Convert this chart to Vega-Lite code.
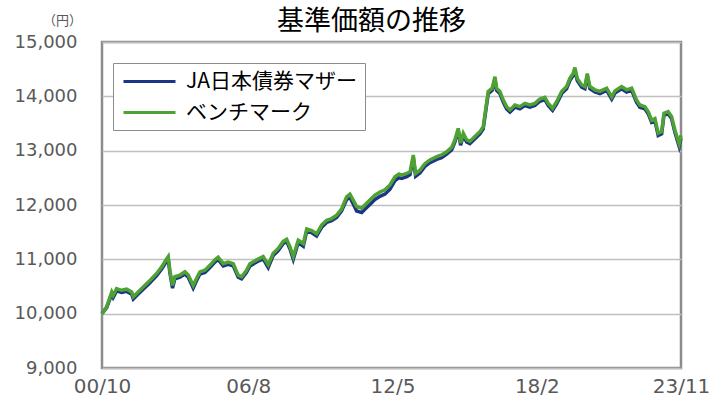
{
  "$schema": "https://vega.github.io/schema/vega-lite/v6.json",
  "width": 579,
  "height": 326,
  "autosize": {"type": "none"},
  "padding": {"left": 102, "top": 42, "right": 45, "bottom": 40},
  "background": "white",
  "title": {"text": "基準価額の推移", "fontSize": 27, "font": "Noto Sans CJK JP", "fontWeight": "normal", "color": "#000000", "anchor": "middle", "dx": -20, "dy": 28, "offset": 6},
  "config": {"view": {"stroke": "#8c8c8c", "strokeWidth": 2.5}, "font": "Noto Sans CJK JP"},
  "data": {
    "values": [
      {"d": "2000/10/01", "bm": 10000, "fund": 10000},
      {"d": "2000/12/08", "bm": 10130, "fund": 10110},
      {"d": "2001/02/20", "bm": 10400, "fund": 10360},
      {"d": "2001/03/13", "bm": 10340, "fund": 10300},
      {"d": "2001/05/01", "bm": 10460, "fund": 10420},
      {"d": "2001/07/13", "bm": 10430, "fund": 10390},
      {"d": "2001/09/25", "bm": 10450, "fund": 10410},
      {"d": "2001/12/07", "bm": 10400, "fund": 10360},
      {"d": "2001/12/31", "bm": 10310, "fund": 10270},
      {"d": "2002/03/12", "bm": 10400, "fund": 10360},
      {"d": "2002/05/24", "bm": 10490, "fund": 10450},
      {"d": "2002/08/30", "bm": 10610, "fund": 10570},
      {"d": "2002/12/06", "bm": 10740, "fund": 10700},
      {"d": "2003/02/17", "bm": 10860, "fund": 10820},
      {"d": "2003/05/01", "bm": 11010, "fund": 10970},
      {"d": "2003/05/23", "bm": 11050, "fund": 11010},
      {"d": "2003/06/16", "bm": 10800, "fund": 10760},
      {"d": "2003/07/25", "bm": 10520, "fund": 10470},
      {"d": "2003/08/28", "bm": 10680, "fund": 10640},
      {"d": "2003/11/10", "bm": 10710, "fund": 10670},
      {"d": "2004/01/22", "bm": 10770, "fund": 10730},
      {"d": "2004/03/10", "bm": 10710, "fund": 10670},
      {"d": "2004/05/21", "bm": 10520, "fund": 10470},
      {"d": "2004/07/10", "bm": 10650, "fund": 10610},
      {"d": "2004/08/27", "bm": 10770, "fund": 10730},
      {"d": "2004/11/08", "bm": 10800, "fund": 10760},
      {"d": "2005/01/20", "bm": 10890, "fund": 10850},
      {"d": "2005/04/02", "bm": 10990, "fund": 10950},
      {"d": "2005/05/20", "bm": 11040, "fund": 11000},
      {"d": "2005/08/01", "bm": 10920, "fund": 10880},
      {"d": "2005/10/13", "bm": 10950, "fund": 10910},
      {"d": "2005/12/25", "bm": 10920, "fund": 10880},
      {"d": "2006/03/07", "bm": 10710, "fund": 10670},
      {"d": "2006/04/26", "bm": 10680, "fund": 10640},
      {"d": "2006/07/07", "bm": 10800, "fund": 10760},
      {"d": "2006/08/25", "bm": 10920, "fund": 10880},
      {"d": "2006/12/01", "bm": 10990, "fund": 10950},
      {"d": "2007/03/06", "bm": 11050, "fund": 11010},
      {"d": "2007/05/18", "bm": 10900, "fund": 10850},
      {"d": "2007/07/30", "bm": 11110, "fund": 11070},
      {"d": "2007/10/11", "bm": 11200, "fund": 11160},
      {"d": "2007/12/23", "bm": 11330, "fund": 11290},
      {"d": "2008/02/11", "bm": 11370, "fund": 11330},
      {"d": "2008/03/30", "bm": 11230, "fund": 11190},
      {"d": "2008/05/17", "bm": 11050, "fund": 11000},
      {"d": "2008/07/29", "bm": 11350, "fund": 11310},
      {"d": "2008/10/10", "bm": 11290, "fund": 11240},
      {"d": "2008/11/29", "bm": 11560, "fund": 11520},
      {"d": "2009/02/10", "bm": 11530, "fund": 11490},
      {"d": "2009/04/22", "bm": 11470, "fund": 11430},
      {"d": "2009/07/04", "bm": 11630, "fund": 11590},
      {"d": "2009/09/15", "bm": 11720, "fund": 11680},
      {"d": "2009/11/27", "bm": 11750, "fund": 11710},
      {"d": "2010/02/08", "bm": 11810, "fund": 11770},
      {"d": "2010/04/21", "bm": 11930, "fund": 11890},
      {"d": "2010/07/03", "bm": 12150, "fund": 12100},
      {"d": "2010/08/20", "bm": 12200, "fund": 12140},
      {"d": "2010/10/07", "bm": 12090, "fund": 12020},
      {"d": "2010/11/26", "bm": 11970, "fund": 11890},
      {"d": "2011/02/08", "bm": 11940, "fund": 11860},
      {"d": "2011/03/26", "bm": 12000, "fund": 11920},
      {"d": "2011/06/07", "bm": 12090, "fund": 12010},
      {"d": "2011/08/19", "bm": 12180, "fund": 12100},
      {"d": "2011/11/01", "bm": 12240, "fund": 12160},
      {"d": "2012/01/13", "bm": 12280, "fund": 12200},
      {"d": "2012/03/25", "bm": 12370, "fund": 12290},
      {"d": "2012/06/06", "bm": 12520, "fund": 12450},
      {"d": "2012/08/04", "bm": 12570, "fund": 12500},
      {"d": "2012/09/12", "bm": 12550, "fund": 12490},
      {"d": "2012/11/24", "bm": 12580, "fund": 12520},
      {"d": "2013/01/11", "bm": 12610, "fund": 12560},
      {"d": "2013/02/28", "bm": 12920, "fund": 12870},
      {"d": "2013/04/03", "bm": 12580, "fund": 12530},
      {"d": "2013/06/04", "bm": 12640, "fund": 12590},
      {"d": "2013/08/16", "bm": 12760, "fund": 12710},
      {"d": "2013/10/28", "bm": 12830, "fund": 12780},
      {"d": "2014/02/04", "bm": 12890, "fund": 12840},
      {"d": "2014/04/16", "bm": 12920, "fund": 12870},
      {"d": "2014/06/28", "bm": 12980, "fund": 12935},
      {"d": "2014/09/09", "bm": 13060, "fund": 13015},
      {"d": "2014/10/27", "bm": 13200, "fund": 13160},
      {"d": "2014/12/14", "bm": 13410, "fund": 13370},
      {"d": "2015/01/18", "bm": 13140, "fund": 13100},
      {"d": "2015/02/26", "bm": 13320, "fund": 13280},
      {"d": "2015/04/15", "bm": 13200, "fund": 13160},
      {"d": "2015/06/02", "bm": 13170, "fund": 13130},
      {"d": "2015/08/14", "bm": 13260, "fund": 13220},
      {"d": "2015/10/26", "bm": 13350, "fund": 13310},
      {"d": "2015/12/13", "bm": 13440, "fund": 13400},
      {"d": "2016/01/17", "bm": 13750, "fund": 13710},
      {"d": "2016/02/24", "bm": 14090, "fund": 14050},
      {"d": "2016/04/22", "bm": 14150, "fund": 14110},
      {"d": "2016/06/01", "bm": 14360, "fund": 14320},
      {"d": "2016/06/25", "bm": 14150, "fund": 14110},
      {"d": "2016/08/12", "bm": 14090, "fund": 14050},
      {"d": "2016/09/30", "bm": 13930, "fund": 13890},
      {"d": "2016/11/18", "bm": 13810, "fund": 13770},
      {"d": "2017/01/06", "bm": 13750, "fund": 13710},
      {"d": "2017/03/18", "bm": 13840, "fund": 13800},
      {"d": "2017/05/30", "bm": 13810, "fund": 13770},
      {"d": "2017/08/11", "bm": 13870, "fund": 13830},
      {"d": "2017/10/23", "bm": 13840, "fund": 13800},
      {"d": "2018/01/04", "bm": 13870, "fund": 13830},
      {"d": "2018/03/17", "bm": 13950, "fund": 13910},
      {"d": "2018/05/29", "bm": 13980, "fund": 13940},
      {"d": "2018/07/16", "bm": 13870, "fund": 13830},
      {"d": "2018/09/18", "bm": 13780, "fund": 13740},
      {"d": "2018/11/16", "bm": 13900, "fund": 13860},
      {"d": "2019/01/28", "bm": 14090, "fund": 14050},
      {"d": "2019/04/10", "bm": 14180, "fund": 14140},
      {"d": "2019/05/27", "bm": 14330, "fund": 14290},
      {"d": "2019/07/14", "bm": 14420, "fund": 14380},
      {"d": "2019/08/09", "bm": 14530, "fund": 14490},
      {"d": "2019/09/12", "bm": 14330, "fund": 14290},
      {"d": "2019/11/15", "bm": 14210, "fund": 14170},
      {"d": "2020/01/02", "bm": 14180, "fund": 14140},
      {"d": "2020/02/05", "bm": 14420, "fund": 14380},
      {"d": "2020/03/14", "bm": 14180, "fund": 14140},
      {"d": "2020/05/26", "bm": 14120, "fund": 14080},
      {"d": "2020/08/07", "bm": 14090, "fund": 14050},
      {"d": "2020/11/14", "bm": 14150, "fund": 14110},
      {"d": "2021/01/26", "bm": 13990, "fund": 13950},
      {"d": "2021/03/13", "bm": 14100, "fund": 14060},
      {"d": "2021/06/19", "bm": 14180, "fund": 14140},
      {"d": "2021/08/31", "bm": 14120, "fund": 14080},
      {"d": "2021/11/12", "bm": 14150, "fund": 14110},
      {"d": "2022/01/24", "bm": 13930, "fund": 13890},
      {"d": "2022/03/12", "bm": 13840, "fund": 13800},
      {"d": "2022/05/24", "bm": 13810, "fund": 13770},
      {"d": "2022/07/11", "bm": 13720, "fund": 13680},
      {"d": "2022/08/30", "bm": 13560, "fund": 13520},
      {"d": "2022/10/17", "bm": 13590, "fund": 13550},
      {"d": "2022/12/04", "bm": 13320, "fund": 13280},
      {"d": "2023/01/23", "bm": 13350, "fund": 13310},
      {"d": "2023/02/26", "bm": 13690, "fund": 13650},
      {"d": "2023/04/28", "bm": 13720, "fund": 13680},
      {"d": "2023/06/16", "bm": 13630, "fund": 13590},
      {"d": "2023/08/04", "bm": 13380, "fund": 13340},
      {"d": "2023/10/05", "bm": 13130, "fund": 13080},
      {"d": "2023/11/01", "bm": 13280, "fund": 13230}
    ]
  },
  "transform": [{"fold": ["fund", "bm"], "as": ["series", "value"]}],
  "encoding": {
    "x": {
      "field": "d",
      "type": "temporal",
      "scale": {"domain": [{"year": 2000, "month": 10, "date": 1}, {"year": 2023, "month": 11, "date": 1}]},
      "axis": {
        "title": null,
        "values": [{"year": 2000, "month": 10, "date": 1}, {"year": 2006, "month": 8, "date": 1}, {"year": 2012, "month": 5, "date": 1}, {"year": 2018, "month": 2, "date": 1}, {"year": 2023, "month": 11, "date": 1}],
        "format": "%y/%-m",
        "labelFont": "DejaVu Sans",
        "labelFontSize": 20,
        "labelColor": "#595959",
        "labelPadding": 8,
        "ticks": false,
        "domain": false,
        "grid": false,
        "labelFlush": false,
        "labelOverlap": false,
        "labelBound": false
      }
    },
    "y": {
      "field": "value",
      "type": "quantitative",
      "scale": {"domain": [9000, 15000], "nice": false, "zero": false},
      "axis": {
        "title": "（円）",
        "titleAngle": 0,
        "titleX": -40,
        "titleY": -18,
        "titleAlign": "center",
        "titleBaseline": "alphabetic",
        "titleFontSize": 13,
        "titleFontWeight": "normal",
        "titleColor": "#595959",
        "values": [9000, 10000, 11000, 12000, 13000, 14000, 15000],
        "format": ",.0f",
        "labelFont": "DejaVu Sans",
        "labelFontSize": 18,
        "labelColor": "#595959",
        "labelPadding": 25,
        "ticks": false,
        "domain": false,
        "grid": true,
        "gridColor": "#c0c0c0",
        "gridWidth": 1.5
      }
    },
    "color": {
      "field": "series",
      "type": "nominal",
      "scale": {"domain": ["fund", "bm"], "range": ["#1c3584", "#4ea233"]},
      "legend": {
        "orient": "none",
        "legendX": 11,
        "legendY": 21,
        "title": null,
        "labelExpr": "datum.label === 'fund' ? 'JA日本債券マザー' : 'ベンチマーク'",
        "symbolType": "M-2.6,0H2.6",
        "symbolSize": 400,
        "symbolOffset": 18,
        "symbolStrokeWidth": 3,
        "labelFontSize": 21,
        "labelLimit": 400,
        "labelColor": "#000000",
        "labelOffset": 25,
        "strokeColor": "#8c8c8c",
        "fillColor": "white",
        "padding": 7,
        "rowPadding": 9
      }
    }
  },
  "layer": [
    {"transform": [{"filter": "datum.series === 'fund'"}], "mark": {"type": "line", "strokeWidth": 3.5}},
    {"transform": [{"filter": "datum.series === 'bm'"}], "mark": {"type": "line", "strokeWidth": 3.5}}
  ]
}
